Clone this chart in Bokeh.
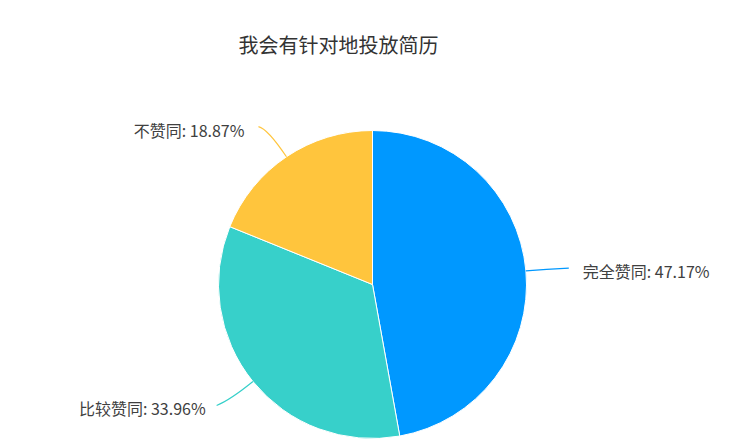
import math
from bokeh.plotting import figure
from bokeh.models import ColumnDataSource, Range1d
from bokeh.core.properties import value
from bokeh.embed import file_html
from bokeh.resources import INLINE

title_text = "我会有针对地投放简历"
categories = ["完全赞同", "比较赞同", "不赞同"]
percents = [47.17, 33.96, 18.87]
colors = ["#0098FF", "#37D0CA", "#FFC53D"]

# leader-line styling per label (radial length, horizontal length, text gap)
leader_radial = [20, 30, 34]
leader_horiz = [23, 13, 9]
label_gap = [14, 11, 14]

W, H = 731, 447
FONT = "Noto Sans CJK SC"

# pie geometry in screen pixels, converted to data with y flipped
CX, CY, R = 372, 284, 154

def to_data_y(sy):
    return H - sy

p = figure(width=W, height=H, output_backend="svg", toolbar_location=None,
           x_range=Range1d(0, W), y_range=Range1d(0, H),
           match_aspect=False)
p.axis.visible = False
p.grid.visible = False
p.outline_line_color = None
p.background_fill_color = "white"
p.border_fill_color = "white"
p.min_border = 0

total = sum(percents)
starts, ends, mids = [], [], []
acc = 0.0
for v in percents:
    a0 = math.pi / 2 - 2 * math.pi * acc / total
    acc += v
    a1 = math.pi / 2 - 2 * math.pi * acc / total
    starts.append(a0)
    ends.append(a1)
    mids.append((a0 + a1) / 2)

src = ColumnDataSource(dict(start=starts, end=ends, color=colors,
                            x=[CX] * 3, y=[to_data_y(CY)] * 3))
p.wedge(x="x", y="y", radius=R, start_angle="start", end_angle="end",
        direction="clock", fill_color="color", line_color="white", line_width=1,
        source=src)

# leader lines and labels
for i, (cat, v, m, col) in enumerate(zip(categories, percents, mids, colors)):
    ux, uy = math.cos(m), math.sin(m)
    x0, y0 = CX + R * ux, to_data_y(CY) + R * uy
    L = leader_radial[i]
    cx_, cy_ = CX + (R + L) * ux, to_data_y(CY) + (R + L) * uy
    side = 1 if ux >= 0 else -1
    x1 = cx_ + side * leader_horiz[i]
    y1 = cy_ + (1 if uy > 0 else -5)
    if uy > 0.5:
        y1 = cy_ + 2
    p.quadratic(x0=x0, y0=y0, x1=x1, y1=y1, cx=cx_, cy=cy_,
                line_color=col, line_width=1.2)
    tx = x1 + side * label_gap[i]
    p.text(x=[tx], y=[y1 - 3], text=[f"{cat}: {v:.2f}%"],
           text_font=value(FONT), text_font_size="16px", text_color="#404040",
           text_align="left" if side > 0 else "right", text_baseline="middle")

p.text(x=[338], y=[to_data_y(44)], text=[title_text], text_font=value(FONT),
       text_font_size="20px", text_color="#333333", text_align="center",
       text_baseline="middle")

open("out.html", "w").write(file_html(p, INLINE))
